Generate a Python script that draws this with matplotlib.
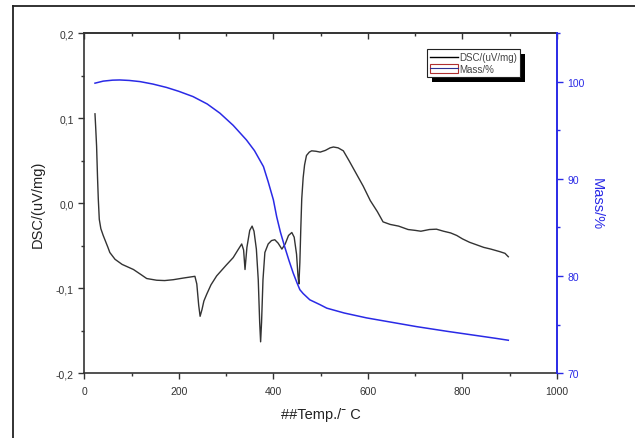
import matplotlib
matplotlib.use("Agg")
import matplotlib.pyplot as plt
from matplotlib.lines import Line2D
from matplotlib.patches import Rectangle
from matplotlib.legend_handler import HandlerTuple
from matplotlib.ticker import FixedLocator, FixedFormatter, MultipleLocator

plt.rcParams['font.family'] = ['Liberation Sans', 'DejaVu Sans']

# ---------------- data ----------------
dsc_temp = [22.6, 24, 26, 28, 29.6, 31.7, 35, 40, 50, 54, 65, 80, 104, 120, 132, 153, 170, 188,
            210, 234, 238, 242, 245, 249, 253, 259, 268, 280, 300, 315, 325, 333, 337, 340, 342,
            344, 350, 355, 359, 364, 368, 371, 373, 375, 378, 382, 389, 396, 403, 410, 418, 425,
            432, 439, 444, 449, 452, 454, 456, 458, 460, 463, 466, 470, 476, 481, 490, 499, 510,
            520, 527, 537, 548, 560, 575, 590, 605, 620, 632, 647, 665, 685, 700, 712, 730, 745,
            760, 775, 788, 800, 815, 830, 845, 860, 879, 890, 897]
dsc_vals = [0.105, 0.09, 0.067, 0.03, 0.005, -0.019, -0.03, -0.038, -0.052, -0.058, -0.066, -0.072,
            -0.078, -0.084, -0.0886, -0.0906, -0.091, -0.090, -0.088, -0.086, -0.095, -0.12, -0.133,
            -0.125, -0.115, -0.107, -0.096, -0.0855, -0.073, -0.064, -0.055, -0.048, -0.055, -0.078,
            -0.065, -0.052, -0.032, -0.027, -0.033, -0.054, -0.09, -0.14, -0.163, -0.14, -0.09,
            -0.058, -0.048, -0.044, -0.043, -0.047, -0.054, -0.048, -0.038, -0.0345, -0.04, -0.06,
            -0.085, -0.095, -0.07, -0.03, 0.005, 0.03, 0.045, 0.056, 0.06, 0.0615, 0.061, 0.060,
            0.062, 0.065, 0.066, 0.065, 0.0615, 0.05, 0.035, 0.020, 0.003, -0.010, -0.022, -0.025,
            -0.027, -0.031, -0.032, -0.033, -0.031, -0.0306, -0.033, -0.035, -0.038, -0.042, -0.046,
            -0.049, -0.052, -0.054, -0.057, -0.059, -0.063]

mass_temp = [22.6, 40, 60, 75, 95, 118, 145, 174, 200, 230, 260, 287, 315, 343, 360, 379, 389,
             400, 407, 415, 424, 433, 442, 450, 456, 463, 477, 499, 513, 550, 597, 650, 703, 770,
             833, 870, 897]
mass_vals = [99.84, 100.05, 100.15, 100.17, 100.12, 100.0, 99.75, 99.4, 99.0, 98.46, 97.7, 96.75,
             95.5, 94.0, 92.9, 91.26, 89.7, 87.84, 86.1, 84.5, 83.0, 81.6, 80.3, 79.3, 78.6, 78.2,
             77.56, 77.05, 76.7, 76.2, 75.7, 75.25, 74.8, 74.3, 73.86, 73.6, 73.4]

x_ticks = [0, 200, 400, 600, 800, 1000]
x_ticklabels = ["0", "200", "400", "600", "800", "1000"]
dsc_ticks = [-0.2, -0.1, 0.0, 0.1, 0.2]
dsc_ticklabels = ["-0,2", "-0,1", "0,0", "0,1", "0,2"]
mass_ticks = [70, 80, 90, 100]
mass_ticklabels = ["70", "80", "90", "100"]

# ---------------- figure ----------------
fig = plt.figure(figsize=(6.35, 4.39), dpi=100)
ax = fig.add_axes([84.3 / 635, 1 - 374.3 / 439, (557 - 84.3) / 635, (374.3 - 34) / 439])

# outer frame (left and top edges visible)
fig.add_artist(Line2D([13 / 635, 13 / 635], [-0.05, 1 - 7 / 439], color='#222222', lw=1.3,
                      transform=fig.transFigure))
fig.add_artist(Line2D([13 / 635, 1.05], [1 - 7 / 439, 1 - 7 / 439], color='#222222', lw=1.3,
                      transform=fig.transFigure))

dark = '#333333'
blue = '#2a2ae6'

ax.plot(dsc_temp, dsc_vals, color=dark, lw=1.0, zorder=3)
ax.set_xlim(0, 1000)
ax.set_ylim(-0.2, 0.2)

ax.xaxis.set_major_locator(FixedLocator(x_ticks))
ax.xaxis.set_major_formatter(FixedFormatter(x_ticklabels))
ax.xaxis.set_minor_locator(MultipleLocator(100))
ax.yaxis.set_major_locator(FixedLocator(dsc_ticks))
ax.yaxis.set_major_formatter(FixedFormatter(dsc_ticklabels))
ax.yaxis.set_minor_locator(MultipleLocator(0.05))

ax.tick_params(axis='both', which='major', direction='out', length=4, width=1, colors=dark,
               labelsize=7.5, labelcolor='#333333')
ax.tick_params(axis='both', which='minor', direction='out', length=2.5, width=1, colors=dark)
ax.tick_params(axis='x', pad=5)
for s in ['left', 'bottom', 'top']:
    ax.spines[s].set_color(dark)
    ax.spines[s].set_linewidth(1.2)
ax.spines['right'].set_visible(False)

# top ticks pointing inward
top = ax.secondary_xaxis('top')
top.xaxis.set_major_locator(FixedLocator(x_ticks))
top.xaxis.set_minor_locator(MultipleLocator(100))
top.tick_params(axis='x', which='major', direction='in', length=4, width=1, colors=dark,
                labeltop=False)
top.tick_params(axis='x', which='minor', direction='in', length=2.5, width=1, colors=dark)
top.spines['top'].set_color(dark)
top.spines['top'].set_linewidth(1.2)

ax.set_xlabel("##Temp./\u02C9 C", fontsize=10.5, color='#222222', labelpad=8)
ax.set_ylabel("DSC/(uV/mg)", fontsize=10.5, color='#222222', labelpad=8)

# mass axis
ax2 = ax.twinx()
ax2.plot(mass_temp, mass_vals, color=blue, lw=1.1, zorder=3)
ax2.set_ylim(70, 105)
ax2.yaxis.set_major_locator(FixedLocator(mass_ticks))
ax2.yaxis.set_major_formatter(FixedFormatter(mass_ticklabels))
ax2.yaxis.set_minor_locator(MultipleLocator(5))
ax2.tick_params(axis='y', which='major', direction='out', length=4, width=1, colors=blue,
                labelsize=7.5, labelcolor=blue)
ax2.tick_params(axis='y', which='minor', direction='out', length=2.5, width=1, colors=blue)
for s in ['left', 'bottom', 'top']:
    ax2.spines[s].set_visible(False)
ax2.spines['right'].set_color(blue)
ax2.spines['right'].set_linewidth(1.4)
ax2.set_ylabel("Mass/%", fontsize=10.5, color=blue, rotation=270, labelpad=14)

# legend
h1 = Line2D([], [], color='black', lw=1)
h2 = (Rectangle((0, 0), 1, 1, facecolor='white', edgecolor='#b03030', lw=0.8),
      Line2D([], [], color='#303090', lw=0.8))
leg = ax2.legend([h1, h2], ["DSC/(uV/mg)", "Mass/%"], handler_map={tuple: HandlerTuple(ndivide=1)},
                 loc='upper left', bbox_to_anchor=((427 - 84.3) / 472.7, 1 - (50 - 34) / 340.3),
                 fontsize=7, frameon=True, fancybox=False, edgecolor='#222222', framealpha=1,
                 borderpad=0.35, labelspacing=0.15, handlelength=2.8, handleheight=1.0,
                 handletextpad=0.15, borderaxespad=0)
for t in leg.get_texts():
    t.set_color('#444444')
leg.get_frame().set_linewidth(0.8)

fig.canvas.draw()
bb = leg.get_window_extent()
shadow = Rectangle((bb.x0 + 5, bb.y0 - 5), bb.width, bb.height, transform=None,
                   facecolor='black', edgecolor='none', zorder=4.5, clip_on=False)
ax2.add_artist(shadow)

fig.savefig("out.png", dpi=100)
